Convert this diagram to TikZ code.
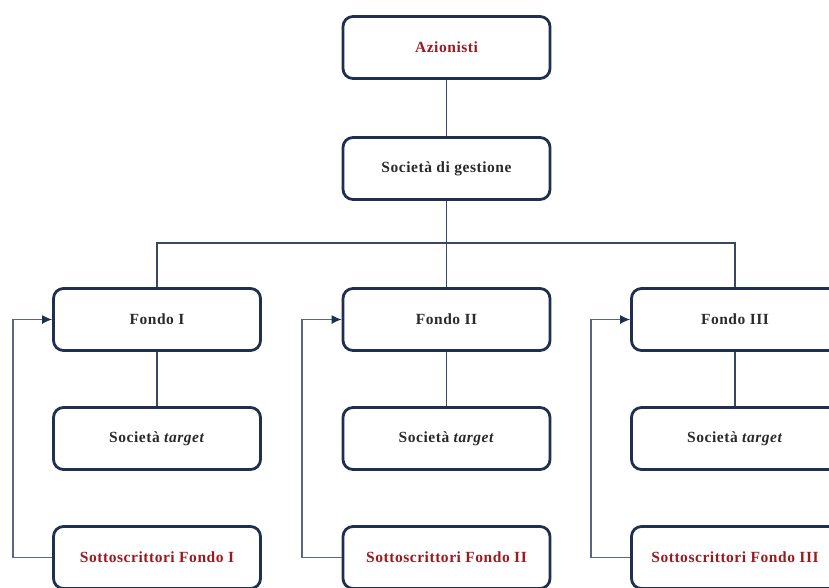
\documentclass[tikz,border=0pt]{standalone}
\usepackage{fontspec}
\setmainfont{Liberation Serif}[LetterSpace=3.5]
\usetikzlibrary{arrows.meta}
\definecolor{navy}{HTML}{1F2F4F}
\definecolor{connc}{HTML}{3A4761}
\definecolor{connl}{HTML}{5A6682}
\definecolor{redtxt}{HTML}{9A1B1F}
\definecolor{txt}{HTML}{2A2A2A}
\begin{document}
\begin{tikzpicture}[x=1pt,y=-1pt,
 box/.style={draw=navy, line width=2.8pt, rounded corners=10pt, minimum width=207pt, minimum height=62pt, fill=white, inner sep=0pt, font=\fontsize{15.5}{18}\selectfont\bfseries, text=txt},
 redbox/.style={box, text=redtxt},
 conn/.style={draw=connc, line width=1.2pt},
 arr/.style={draw=connl, line width=1.2pt, -{Latex[length=10pt,width=9pt,color=navy]}}]
\useasboundingbox (0,0) rectangle (829,587);
\clip (0,0) rectangle (829,587);
\node[redbox] (az) at (446.5,47.5) {Azionisti};
\node[box] (sg) at (446.5,168.5) {Società di gestione};
\node[box] (f1) at (157,319.5) {Fondo I};
\node[box] (f2) at (446.5,319.5) {Fondo II};
\node[box] (f3) at (735,319.5) {Fondo III};
\node[box] (t1) at (157,438.5) {Società \textit{target}};
\node[box] (t2) at (446.5,438.5) {Società \textit{target}};
\node[box] (t3) at (735,438.5) {Società \textit{target}};
\node[redbox] (s1) at (157,557.5) {Sottoscrittori Fondo I};
\node[redbox] (s2) at (446.5,557.5) {Sottoscrittori Fondo II};
\node[redbox] (s3) at (735,557.5) {Sottoscrittori Fondo III};
\coordinate (bus) at (446.5,243);
\coordinate (l1) at (13,319.5);
\coordinate (l2) at (302,319.5);
\coordinate (l3) at (591,319.5);
\draw[conn] (az) -- (sg);
\draw[conn] (sg) -- (bus);
\draw[conn] (f1.north) |- (bus) -| (f3.north);
\draw[conn] (bus) -- (f2);
\draw[conn] (f1) -- (t1);
\draw[conn] (f2) -- (t2);
\draw[conn] (f3) -- (t3);
\draw[arr] (s1.west) -| (l1) -- (f1.west);
\draw[arr] (s2.west) -| (l2) -- (f2.west);
\draw[arr] (s3.west) -| (l3) -- (f3.west);
\end{tikzpicture}
\end{document}
